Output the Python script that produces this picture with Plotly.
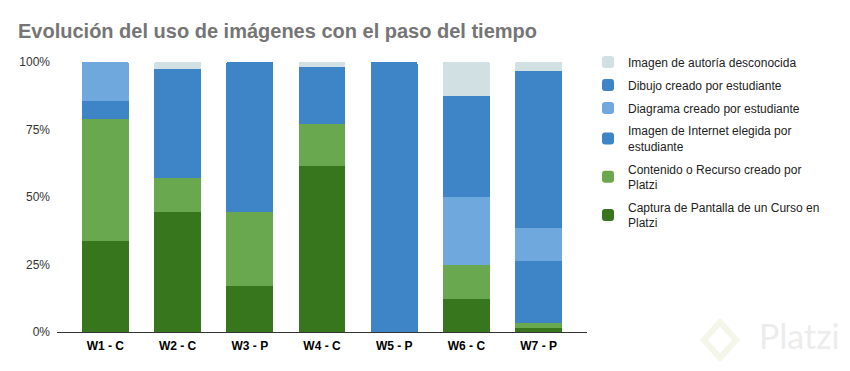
import plotly.graph_objects as go

categories = ["W1 - C", "W2 - C", "W3 - P", "W4 - C", "W5 - P", "W6 - C", "W7 - P"]

captura = [33.7, 44.4, 17.0, 61.5, 0, 12.4, 1.5]
contenido = [45.2, 12.6, 27.4, 15.5, 0, 12.5, 1.8]
internet = [6.7, 40.4, 55.6, 21.1, 100, 0, 23.0]
diagrama = [14.4, 0, 0, 0, 0, 25.1, 12.2]
dibujo = [0, 0, 0, 0, 0, 37.4, 58.2]
autoria = [0, 2.6, 0, 1.9, 0, 12.6, 3.3]

y_tick_vals = [0, 25, 50, 75, 100]
y_tick_text = ["0%", "25%", "50%", "75%", "100%"]

series = [
    ("Captura de Pantalla de un Curso en<br>Platzi", captura, "#38761d"),
    ("Contenido o Recurso creado por<br>Platzi", contenido, "#6aa84f"),
    ("Imagen de Internet elegida por<br>estudiante", internet, "#3d85c6"),
    ("Diagrama creado por estudiante", diagrama, "#6fa8dc"),
    ("Dibujo creado por estudiante", dibujo, "#3d85c6"),
    ("Imagen de autoría desconocida", autoria, "#d0e0e3"),
]

FONT = "Arial, Liberation Sans, sans-serif"

fig = go.Figure()
n = len(series)
for i, (name, vals, color) in enumerate(series):
    fig.add_trace(go.Bar(
        name=name, x=categories, y=vals,
        marker=dict(color=color, line=dict(width=0)),
        legendgroup=f"g{i}",
        legendrank=n - i,
    ))

fig.update_layout(
    width=850, height=371,
    barmode="stack",
    bargap=0.35,
    barcornerradius=2,
    paper_bgcolor="white", plot_bgcolor="white",
    margin=dict(l=57, r=263, t=62, b=39, autoexpand=False),
    font=dict(family=FONT, size=12, color="#222222"),
    title=dict(
        text="<b>Evolución del uso de imágenes con el paso del tiempo</b>",
        x=18 / 850, xanchor="left", xref="container",
        y=1 - 31 / 371, yanchor="middle", yref="container",
        font=dict(family=FONT, size=20, color="#757575"),
    ),
    legend=dict(
        x=1.0 + 1 / 530, xanchor="left", y=1.054, yanchor="top",
        traceorder="grouped",
        tracegroupgap=4,
        maxheight=400,
        font=dict(family=FONT, size=12, color="#222222"),
        bgcolor="rgba(0,0,0,0)",
    ),
    showlegend=True,
)

fig.update_xaxes(
    type="category",
    range=[-0.67, 6.67],
    tickfont=dict(family=FONT, size=12, color="#000000", weight="bold"),
    showgrid=False,
    showline=True, linecolor="#333333", linewidth=1,
    ticks="",
    ticklabelstandoff=3,
)
fig.update_yaxes(
    range=[0, 100],
    tickvals=y_tick_vals,
    ticktext=y_tick_text,
    showgrid=False,
    zeroline=False,
    showline=False,
    ticklabelstandoff=6,
    tickfont=dict(family=FONT, size=12, color="#333333"),
)

# faint Platzi watermark
fig.add_annotation(
    text="Platzi", xref="paper", yref="paper",
    x=(842 - 57) / 530, y=(332 - 358) / 270, xanchor="right", yanchor="bottom",
    showarrow=False,
    font=dict(family="Lato, sans-serif", size=34, color="#ececec"),
)
fig.add_shape(
    type="path", xref="paper", yref="paper",
    path="M {a},{b} L {c},{d} L {a},{e} L {f},{d} Z".format(
        a=(720 - 57) / 530, b=(332 - 322) / 270,
        c=(736 - 57) / 530, d=(332 - 340) / 270,
        e=(332 - 358) / 270, f=(704 - 57) / 530,
    ),
    line=dict(color="#f3f6e8", width=6),
    layer="below",
)

fig.write_html(
    "out.html",
    config={"displayModeBar": False},
    post_script="document.body.style.margin='0';document.body.style.padding='0';",
)
